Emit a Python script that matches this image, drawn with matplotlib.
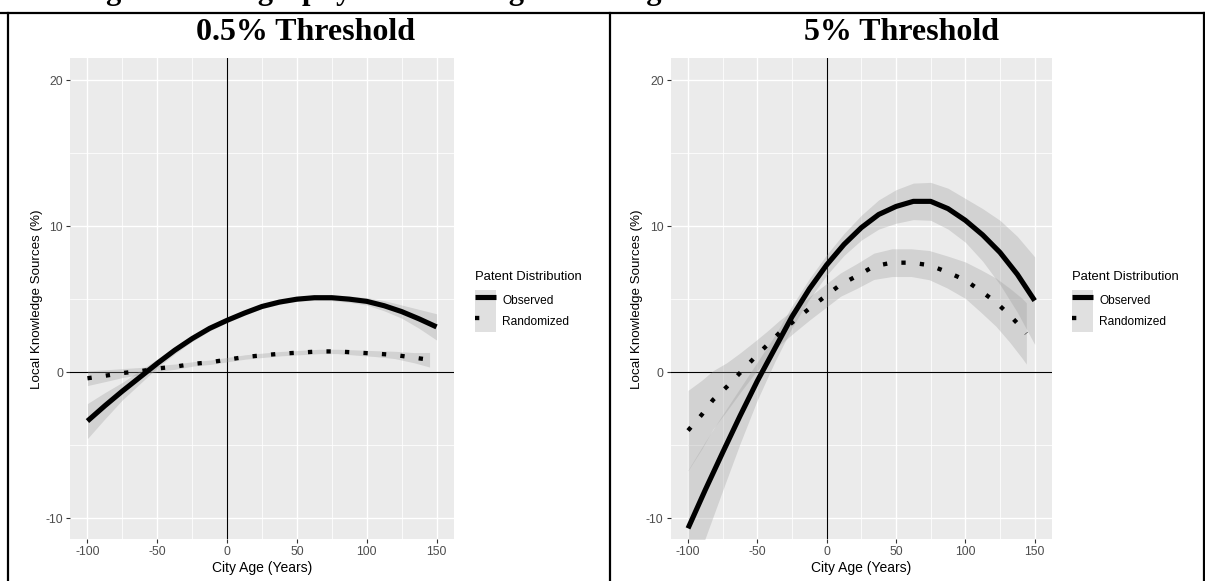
import numpy as np
import matplotlib
matplotlib.use("Agg")
import matplotlib.pyplot as plt
from matplotlib.lines import Line2D
from matplotlib.patches import Patch
from matplotlib.legend_handler import HandlerTuple

# ---------------- data ----------------
panel_titles = ["0.5% Threshold", "5% Threshold"]
series_names = ["Observed", "Randomized"]

# 0.5% threshold panel
left_obs_age = [-100, -87.5, -75, -62.5, -50, -37.5, -25, -12.5, 0, 12.5, 25, 37.5,
                50, 62.5, 75, 87.5, 100, 112.5, 125, 137.5, 150]
left_obs_val = [-3.35, -2.3, -1.3, -0.35, 0.6, 1.5, 2.3, 3.0, 3.55, 4.05, 4.5, 4.8,
                5.0, 5.1, 5.1, 5.0, 4.85, 4.55, 4.15, 3.65, 3.1]
left_obs_se = [1.2, 0.9, 0.6, 0.45, 0.3, 0.25, 0.2, 0.18, 0.15, 0.15, 0.15, 0.15,
               0.15, 0.18, 0.2, 0.22, 0.25, 0.35, 0.45, 0.65, 0.9]

left_rnd_age = [-100, -87, -74, -62, -49, -37, -24, -12, 1, 13, 26, 39, 52, 66, 79,
                93, 106, 120, 134, 145]
left_rnd_val = [-0.42, -0.24, -0.05, 0.07, 0.26, 0.38, 0.57, 0.68, 0.87, 1.04, 1.16,
                1.27, 1.34, 1.42, 1.42, 1.34, 1.27, 1.18, 0.99, 0.85]
left_rnd_se = [0.5, 0.4, 0.3, 0.25, 0.2, 0.18, 0.15, 0.15, 0.15, 0.15, 0.15, 0.15,
               0.15, 0.15, 0.15, 0.18, 0.2, 0.25, 0.35, 0.5]

# 5% threshold panel
right_obs_age = [-100, -87.5, -75, -62.5, -50, -37.5, -25, -12.5, 0, 12.5, 25, 37.5,
                 50, 62.5, 75, 87.5, 100, 112.5, 125, 137.5, 150]
right_obs_val = [-10.7, -8.05, -5.5, -3.0, -0.6, 1.6, 3.8, 5.7, 7.35, 8.75, 9.9, 10.8,
                 11.35, 11.7, 11.7, 11.2, 10.4, 9.4, 8.2, 6.7, 4.9]
right_obs_se = [4.0, 3.3, 2.6, 1.9, 1.3, 0.9, 0.75, 0.7, 0.7, 0.75, 0.85, 1.0,
                1.15, 1.25, 1.3, 1.4, 1.5, 1.8, 2.2, 2.6, 3.0]

right_rnd_age = [-100, -90, -82, -72, -62, -52, -43, -34, -23, -12, -1, 10, 22, 34,
                 47, 61, 74, 87, 100, 111, 122, 132, 141, 144]
right_rnd_val = [-4.0, -2.9, -1.9, -1.0, 0.0, 1.0, 1.85, 2.7, 3.55, 4.4, 5.2, 6.0,
                 6.6, 7.25, 7.5, 7.5, 7.33, 6.86, 6.3, 5.57, 4.8, 3.9, 3.0, 2.65]
right_rnd_se = [2.75, 2.35, 2.0, 1.65, 1.35, 1.1, 0.95, 0.85, 0.8, 0.8, 0.8, 0.8,
                0.85, 0.9, 0.95, 0.95, 1.0, 1.1, 1.25, 1.45, 1.65, 1.85, 2.05, 2.1]

x_major = [-100, -50, 0, 50, 100, 150]
x_minor = [-75, -25, 25, 75, 125]
y_major = [-10, 0, 10, 20]
y_minor = [-5, 5, 15]

caption = "Figure 5: Geography of Knowledge Sourcing"

# ---------------- styling ----------------
plt.rcParams['font.family'] = ['Liberation Sans', 'DejaVu Sans']
W, H = 1205, 581
fig = plt.figure(figsize=(W / 100, H / 100), dpi=100)

BAND = '#999999'
BAND_ALPHA = 0.3
OBS_LW = 3.7
RND_LW = 3.1
RND_LS = (0, (1, 3.3))


def px(x0, y0, x1, y1):
    # pixel box (top-left origin) -> figure fraction rect
    return [x0 / W, 1 - y1 / H, (x1 - x0) / W, (y1 - y0) / H]


panels = [
    dict(rect=px(70, 58.3, 454, 539.3),
         obs=(left_obs_age, left_obs_val, left_obs_se),
         rnd=(left_rnd_age, left_rnd_val, left_rnd_se),
         title_x=305, legend_x=474.6),
    dict(rect=px(670.7, 58.3, 1052, 539.3),
         obs=(right_obs_age, right_obs_val, right_obs_se),
         rnd=(right_rnd_age, right_rnd_val, right_rnd_se),
         title_x=902, legend_x=1071.9),
]

for i, p in enumerate(panels):
    ax = fig.add_axes(p['rect'])
    ax.set_facecolor('#EBEBEB')
    for s in ax.spines.values():
        s.set_visible(False)
    ax.set_xlim(-112.5, 162.5)
    ax.set_ylim(-11.45, 21.5)
    ax.set_xticks(x_major)
    ax.set_xticks(x_minor, minor=True)
    ax.set_yticks(y_major)
    ax.set_yticks(y_minor, minor=True)
    ax.set_xticklabels([str(v) for v in x_major])
    ax.set_yticklabels([str(v) for v in y_major])
    ax.grid(which='major', color='white', lw=1.0)
    ax.grid(which='minor', color='white', lw=0.55)
    ax.set_axisbelow(True)
    ax.tick_params(which='major', length=2.8, width=0.8, color='#333333',
                   labelcolor='#4D4D4D', labelsize=8.8, pad=2.3)
    ax.tick_params(which='minor', length=0)

    ox, oy, ose = (np.array(a, dtype=float) for a in p['obs'])
    rx, ry, rse = (np.array(a, dtype=float) for a in p['rnd'])

    ax.axhline(0, color='black', lw=0.8, zorder=1.5)
    ax.axvline(0, color='black', lw=0.8, zorder=1.5)

    ax.fill_between(ox, oy - ose, oy + ose, color=BAND, alpha=BAND_ALPHA, lw=0, zorder=2)
    ax.fill_between(rx, ry - rse, ry + rse, color=BAND, alpha=BAND_ALPHA, lw=0, zorder=2)
    ax.plot(ox, oy, color='black', lw=OBS_LW, solid_capstyle='butt', zorder=3)
    ax.plot(rx, ry, color='black', lw=RND_LW, linestyle=RND_LS,
            dash_capstyle='butt', zorder=3)

    ax.set_xlabel('City Age (Years)', fontsize=10, color='black', labelpad=2)
    ax.set_ylabel('Local Knowledge Sources (%)', fontsize=9.6, color='black', labelpad=2)

    # panel title
    fig.text(p['title_x'] / W, 1 - 33 / H, panel_titles[i], ha='center', va='center',
             family=['Liberation Serif', 'DejaVu Serif'], fontweight='bold', fontsize=23)

    # legend
    h_obs = (Patch(facecolor=BAND, alpha=BAND_ALPHA, edgecolor='none'),
             Line2D([], [], color='black', lw=OBS_LW, solid_capstyle='butt'))
    h_rnd = (Patch(facecolor=BAND, alpha=BAND_ALPHA, edgecolor='none'),
             Line2D([], [], color='black', lw=RND_LW, linestyle=(0, (1, 8)),
                    dash_capstyle='butt'))
    leg = fig.legend([h_obs, h_rnd], series_names,
                     handler_map={tuple: HandlerTuple(ndivide=1, pad=0)},
                     loc='upper left',
                     bbox_to_anchor=(p['legend_x'] / W, 1 - 271 / H),
                     bbox_transform=fig.transFigure,
                     frameon=False, fontsize=8.6, title='Patent Distribution',
                     title_fontsize=9.4, alignment='left', borderpad=0,
                     borderaxespad=0, handlelength=1.75, handleheight=2.3,
                     handletextpad=0.55, labelspacing=0)
    leg._legend_box.sep = 5

# table frame lines
frame_kw = dict(color='black', lw=1.6, transform=fig.transFigure)
top_y = 1 - 13 / H
fig.add_artist(Line2D([0 / W, 1], [top_y, top_y], **frame_kw))
for xp in (8.4, 610, 1203.5):
    fig.add_artist(Line2D([xp / W, xp / W], [0, top_y], **frame_kw))

# clipped caption line at the very top (only descenders visible)
fig.text(79 / W, 1 + 1.5 / H, caption, ha='left', va='baseline',
         family=['Liberation Serif', 'DejaVu Serif'], fontweight='bold', fontsize=22)

fig.savefig('out.png', dpi=100)
